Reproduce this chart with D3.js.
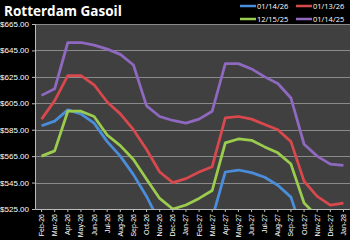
<!DOCTYPE html>
<html>
<head>
<meta charset="utf-8">
<script src="https://cdn.jsdelivr.net/npm/d3@7"></script>
<style>
body { margin: 0; background: #000; }
svg { display: block; font-family: "Open Sans", "DejaVu Sans", sans-serif; }
</style>
</head>
<body>
<div id="chart"></div>
<script>
var months = ['Feb-26','Mar-26','Apr-26','May-26','Jun-26','Jul-26','Aug-26','Sep-26','Oct-26','Nov-26','Dec-26','Jan-27',
              'Feb-27','Mar-27','Apr-27','May-27','Jun-27','Jul-27','Aug-27','Sep-27','Oct-27','Nov-27','Dec-27','Jan-28'];

var yTicks = [525, 545, 565, 585, 605, 625, 645, 665];

var seriesNames = ['01/14/26', '01/13/26', '12/15/25', '01/14/25'];

var s011426 = [588, 591.5, 600, 597, 590, 576, 565, 551, 534.5, 515, 508, 508, 511, 518,
               553, 554.5, 552.5, 549, 543, 534, 504, 495, 492, 492];
var s011326 = [593, 607, 626, 626, 619, 606, 597, 585, 570, 553, 545, 548, 553, 557,
               594, 595, 593, 589, 585, 576, 546, 534.5, 528, 529.5];
var s121525 = [565, 569, 599, 599, 595, 581, 573, 562.5, 547.5, 533, 525, 528, 533, 539,
               575, 578, 577, 572, 567.5, 559, 529.5, 519.5, 515, 515];
var s011425 = [611, 616, 651, 651, 649, 646, 642, 634, 603, 595, 592, 590, 593, 599,
               635, 635, 631, 625, 620, 609, 574, 565, 559, 558];

var colors = ['#4a8edb', '#d9484c', '#9bcc4e', '#8f68c0'];
var allSeries = [s011426, s011326, s121525, s011425];

var width = 350, height = 240;
var margin = {top: 24, right: 0, bottom: 31, left: 35};

var svg = d3.select('#chart').append('svg')
    .attr('width', width)
    .attr('height', height);

svg.append('rect').attr('width', width).attr('height', height).attr('fill', '#000');

var x = d3.scaleBand()
    .domain(months)
    .range([margin.left, width - margin.right]);

var y = d3.scaleLinear()
    .domain([525, 665])
    .range([height - margin.bottom, margin.top]);

// plot area
svg.append('rect')
    .attr('x', margin.left)
    .attr('y', margin.top)
    .attr('width', width - margin.left - margin.right)
    .attr('height', height - margin.top - margin.bottom)
    .attr('fill', '#404040');

// gridlines
svg.append('g')
    .selectAll('line')
    .data(yTicks.slice(1))
    .enter()
    .append('line')
    .attr('x1', margin.left)
    .attr('x2', width - margin.right)
    .attr('y1', function(d) { return Math.round(y(d)) + 0.5; })
    .attr('y2', function(d) { return Math.round(y(d)) + 0.5; })
    .attr('stroke', '#8a8a8a')
    .attr('stroke-width', 1);

// y axis
var yAxis = d3.axisLeft(y)
    .tickValues(yTicks)
    .tickSize(3)
    .tickFormat(function(d) { return '$' + d3.format('.2f')(d); });

var yg = svg.append('g')
    .attr('transform', 'translate(' + margin.left + ',0)')
    .call(yAxis);
yg.select('.domain').attr('stroke', '#bbb');
yg.selectAll('.tick line').attr('stroke', '#bbb');
yg.selectAll('text')
    .attr('fill', '#fff')
    .style('font-size', '8px')
    .attr('x', -6);

// x axis
var xAxis = d3.axisBottom(x).tickSize(3).tickSizeOuter(0);
var xg = svg.append('g')
    .attr('transform', 'translate(0,' + (height - margin.bottom) + ')')
    .call(xAxis);
xg.select('.domain').attr('stroke', '#bbb');
xg.selectAll('.tick line').attr('stroke', '#bbb');
xg.selectAll('text')
    .attr('fill', '#fff')
    .style('font-size', '7px')
    .attr('transform', 'rotate(-90)')
    .attr('x', -5)
    .attr('y', 0)
    .attr('dy', '0.35em')
    .style('text-anchor', 'end');

// lines, clipped to plot area
svg.append('clipPath').attr('id', 'plotclip')
    .append('rect')
    .attr('x', margin.left)
    .attr('y', margin.top)
    .attr('width', width - margin.left - margin.right)
    .attr('height', height - margin.top - margin.bottom);

var line = d3.line()
    .x(function(d, i) { return x(months[i]) + x.bandwidth() / 2; })
    .y(function(d) { return y(d); });

svg.append('g')
    .attr('clip-path', 'url(#plotclip)')
    .selectAll('path')
    .data(allSeries)
    .enter()
    .append('path')
    .attr('d', function(d) { return line(d); })
    .attr('fill', 'none')
    .attr('stroke', function(d, i) { return colors[i]; })
    .attr('stroke-width', 2.75)
    .attr('stroke-linejoin', 'round');

// title
svg.append('text')
    .attr('x', 4)
    .attr('y', 16)
    .attr('fill', '#fff')
    .style('font-size', '13.5px')
    .style('font-weight', 'bold')
    .text('Rotterdam Gasoil');

// legend
var legendPos = [[240, 6], [296, 6], [240, 19], [296, 19]];
var lg = svg.append('g')
    .selectAll('g')
    .data(seriesNames)
    .enter()
    .append('g')
    .attr('transform', function(d, i) { return 'translate(' + legendPos[i][0] + ',' + legendPos[i][1] + ')'; });
lg.append('line')
    .attr('x1', 0).attr('x2', 16)
    .attr('stroke', function(d, i) { return colors[i]; })
    .attr('stroke-width', 2.5);
lg.append('text')
    .attr('x', 17)
    .attr('dy', '0.35em')
    .attr('fill', '#fff')
    .style('font-size', '7.5px')
    .text(function(d) { return d; });
</script>
</body>
</html>
